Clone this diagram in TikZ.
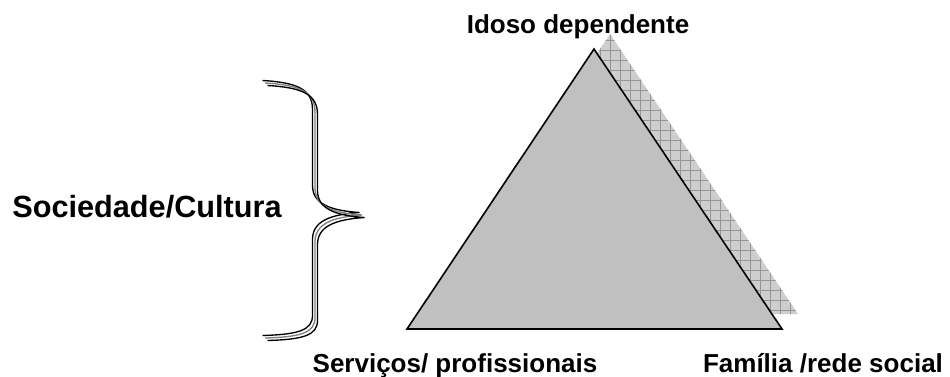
\documentclass[tikz,border=0pt]{standalone}
\usepackage{fontspec}
\setmainfont{Liberation Sans}
\usetikzlibrary{positioning}
\definecolor{trifill}{RGB}{192,192,192}
\definecolor{shadefill}{RGB}{206,206,206}
\definecolor{shadegrid}{RGB}{150,150,150}

\begin{document}
\begin{tikzpicture}[x=0.75pt,y=-0.75pt,
					thick,main node/.style={font=\bfseries\fontsize{19.5}{22}\selectfont,anchor=base,inner sep=0pt},
					big node/.style={font=\bfseries\fontsize{23}{26}\selectfont,anchor=base,inner sep=0pt}]
					
					\useasboundingbox (0,0) rectangle (950,376);
					
					% corners of the triangle and of its shadow
					\coordinate (top) at (594,49);
					\coordinate (left) at (407,329);
					\coordinate (right) at (782,329);
					\coordinate (stop) at (610,34);
					\coordinate (sleft) at (423,314);
					\coordinate (sright) at (798,314);
					
					% shadow
					\begin{scope}
					\clip (stop) -- (sright) -- (sleft) -- cycle;
					\fill[shadefill] (400,20) rectangle (810,330);
					\draw[shadegrid,line width=0.4pt,step=7.5pt] (400,20) grid (810,330);
					\end{scope}
					
					% triangle
					\draw[fill=trifill,line width=1.2pt,line join=miter] (top) -- (right) -- (left) -- cycle;
					
					% brace, drawn three times
					\foreach \d/\c in {0/black,2.5/gray,5/black}
					\draw[\c,line width=1pt,shift={(\d-2.5,\d-2.5)}]
					(265,83) .. controls (300,85) and (315,92) .. (315,112) -- (315,188)
					.. controls (315,206) and (332,213) .. (362,215)
					.. controls (332,217) and (315,224) .. (315,242) -- (315,318)
					.. controls (315,333) and (300,337) .. (265,338);
					
					\node[main node] (idoso) at (578,33) {Idoso dependente};
					\node[big node] (sociedade) at (147,217) {Sociedade/Cultura};
					\node[main node] (servicos) at (455,372) {Serviços/ profissionais};
					\node[main node] (familia) at (823,372) {Família /rede social};
					
				\end{tikzpicture}
\end{document}
